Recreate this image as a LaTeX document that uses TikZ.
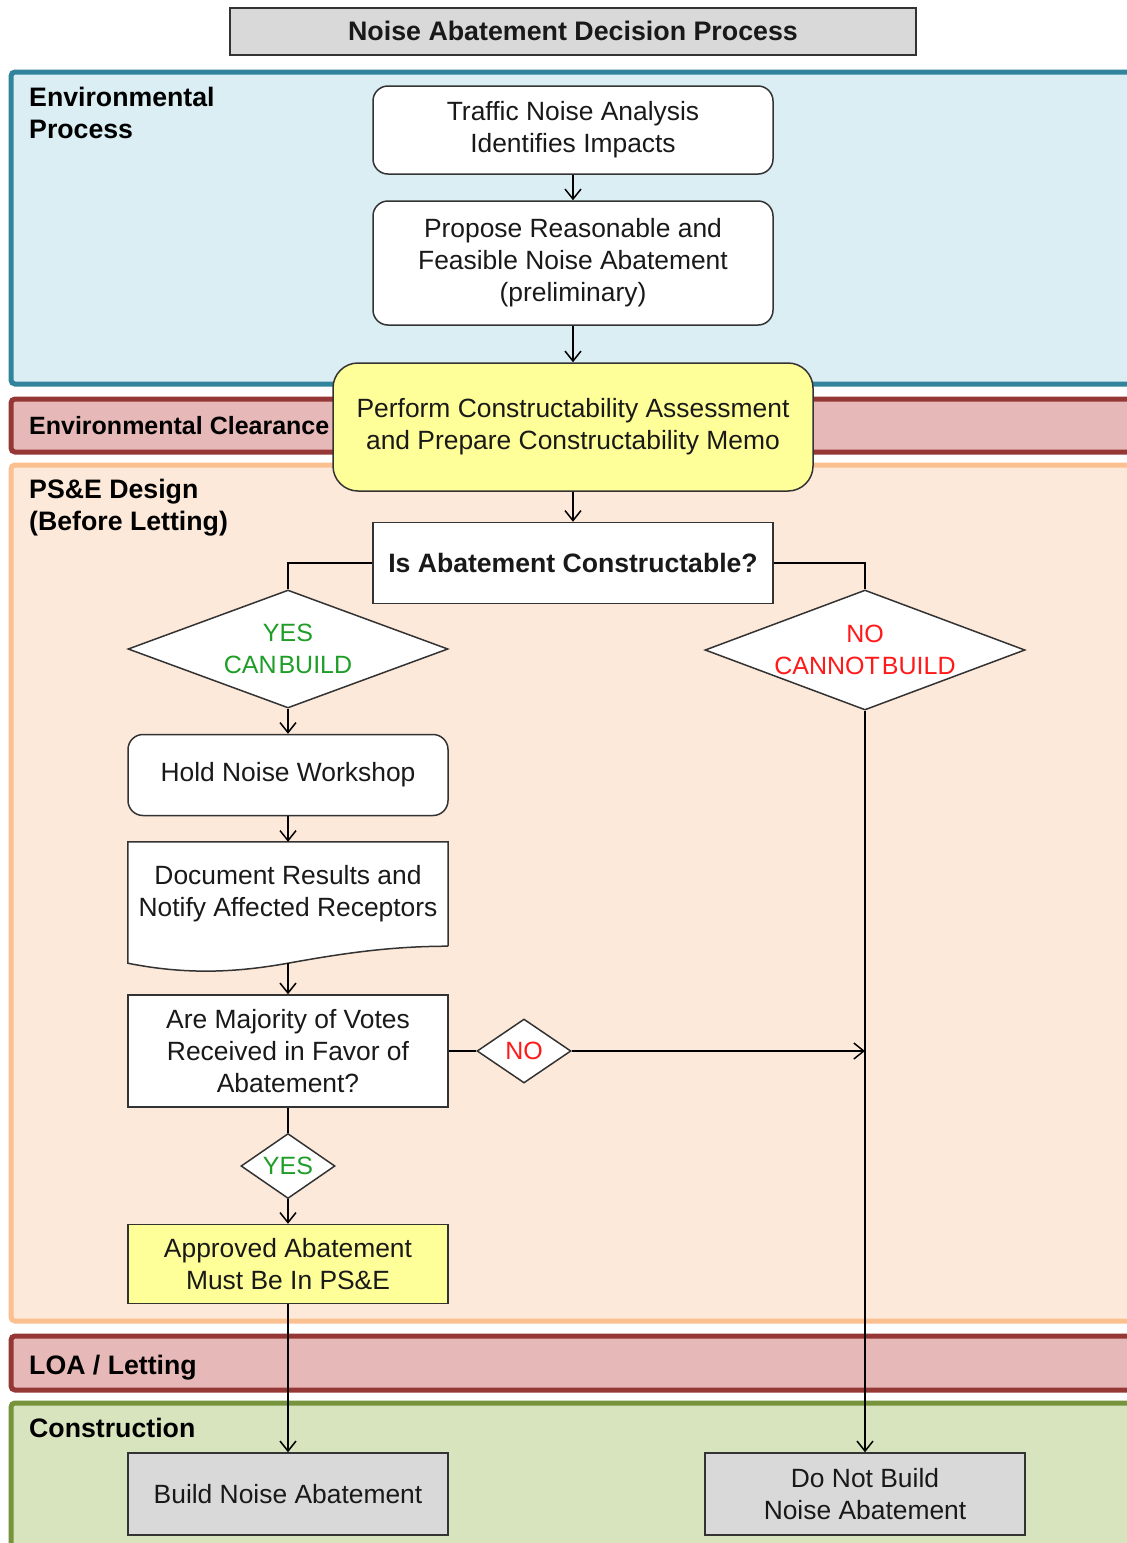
\documentclass[tikz,border=0pt]{standalone}
\usepackage{fontspec}
\setmainfont{Liberation Sans}
\usetikzlibrary{arrows.meta,positioning,calc,shapes.geometric}

\definecolor{envfill}{HTML}{DAEEF3}
\definecolor{envline}{HTML}{31849B}
\definecolor{clrfill}{HTML}{E6B8B7}
\definecolor{clrline}{HTML}{953735}
\definecolor{psefill}{HTML}{FDE9D9}
\definecolor{pseline}{HTML}{FAC090}
\definecolor{cnsfill}{HTML}{D7E4BD}
\definecolor{cnsline}{HTML}{77933C}
\definecolor{memo}{HTML}{FFFF99}
\definecolor{greybox}{HTML}{D9D9D9}
\definecolor{yesgreen}{HTML}{1E9E28}
\definecolor{nored}{HTML}{FF1A1A}

\newcommand{\choicefont}{\fontsize{25}{32}\selectfont\spaceskip 2pt\relax}

\tikzset{
  band/.style={line width=5pt, rounded corners=4pt},
  bandlabel/.style={font=\fontsize{26.7}{32}\selectfont\bfseries, align=left, inner sep=0pt},
  boxed/.style={draw=black!80, line width=1.5pt, fill=white, align=center, inner sep=0pt,
    text=black!90, minimum width=320pt},
  roundbox/.style={boxed, rounded corners=15pt},
  choice/.style={diamond, draw=black!80, line width=1.5pt, fill=white, inner sep=0pt},
  choicetext/.style={font=\choicefont, align=center},
  flow/.style={line width=1.5pt, -{Straight Barb[length=10pt,width=16pt]}},
  link/.style={line width=1.5pt},
}

\begin{document}
\begin{tikzpicture}[x=1pt,y=-1pt, every node/.style={font=\fontsize{26.4}{32}\selectfont}]
\clip (0,0) rectangle (1127,1543);
\fill[white] (0,0) rectangle (1127,1543);

% swim lanes
\draw[band, draw=envline, fill=envfill] (11,72) rectangle (1140,384);
\draw[band, draw=clrline, fill=clrfill] (11,399) rectangle (1140,452);
\draw[band, draw=pseline, fill=psefill] (11,465) rectangle (1140,1321);
\draw[band, draw=clrline, fill=clrfill] (11,1336) rectangle (1140,1390);
\draw[band, draw=cnsline, fill=cnsfill] (11,1403) rectangle (1140,1600);

\node[bandlabel, anchor=north west] (lenv) at (29,87) {Environmental\\Process};
\node[bandlabel, anchor=base west, font=\fontsize{25}{32}\selectfont\bfseries] (lclr) at (29,434) {Environmental Clearance};
\node[bandlabel, anchor=north west] (lpse) at (29,479) {PS\&E Design\\(Before Letting)};
\node[bandlabel, anchor=base west] (lloa) at (29,1374) {LOA / Letting};
\node[bandlabel, anchor=base west] (lcns) at (29,1437) {Construction};

% title
\node[boxed, fill=greybox, line width=2pt, minimum width=686pt, minimum height=47pt,
  font=\fontsize{26.8}{32}\selectfont\bfseries] (title) at (573,31) {Noise Abatement Decision Process};

% boxes
\node[roundbox, minimum width=400pt, minimum height=88pt] (traffic) at (573,130)
  {Traffic Noise Analysis\\Identifies Impacts};
\node[roundbox, minimum width=400pt, minimum height=124pt] (propose) at (573,263)
  {Propose Reasonable and\\Feasible Noise Abatement\\(preliminary)};
\node[roundbox, fill=memo, rounded corners=25pt, minimum width=480pt, minimum height=128pt] (perform) at (573,427)
  {Perform Constructability Assessment\\and Prepare Constructability Memo};
\node[boxed, minimum width=400pt, minimum height=81pt,
  font=\fontsize{26.6}{32}\selectfont\bfseries] (isabate) at (573,563) {Is Abatement Constructable?};

\node[choice, minimum width=320pt, minimum height=118pt,
  label={[choicetext, text=yesgreen]center:YES\\CAN BUILD}] (canbuild) at (288,649) {};
\node[choice, minimum width=320pt, minimum height=120pt,
  label={[choicetext, text=nored]center:NO\\CANNOT BUILD}] (cannotbuild) at (865,650) {};

\node[roundbox, minimum height=81pt] (workshop) at (288,775) {Hold Noise Workshop};

\node[align=center, inner sep=0pt, minimum width=320pt, minimum height=104pt, text=black!90] (docres) at (288,894)
  {Document Results and\\Notify Affected Receptors};
\draw[draw=black!80, fill=white, line width=1.5pt] (docres.south east) -- (docres.north east)
  -- (docres.north west) -- ($(docres.south west)+(0,17)$)
  .. controls ($(docres.south west)+(60,29)$) and ($(docres.south west)+(110,26)$) .. ($(docres.south)+(0,17)$)
  .. controls ($(docres.south)+(50,8)$) and ($(docres.south east)+(-60,0)$) .. (docres.south east);
\node[align=center, inner sep=0pt, text=black!90] at (docres) {Document Results and\\Notify Affected Receptors};
\coordinate (docbot) at ($(docres.south)+(0,17)$);

\node[boxed, minimum height=112pt] (votes) at (288,1051) {Are Majority of Votes\\Received in Favor of\\Abatement?};
\node[choice, minimum width=94pt, minimum height=64pt,
  label={[choicetext, text=nored]center:NO}] (novote) at (524,1051) {};
\node[choice, minimum width=94pt, minimum height=65pt,
  label={[choicetext, text=yesgreen]center:YES}] (yesvote) at (288,1166) {};

\node[boxed, fill=memo, minimum height=79pt] (approved) at (288,1264) {Approved Abatement\\Must Be In PS\&E};
\node[boxed, fill=greybox, minimum height=82pt] (build) at (288,1494) {Build Noise Abatement};
\node[boxed, fill=greybox, minimum height=82pt] (nobuild) at (865,1494) {Do Not Build\\Noise Abatement};

\coordinate (merge) at (cannotbuild |- novote);

% connectors
\draw[flow] (traffic) -- (propose);
\draw[flow] (propose) -- (perform);
\draw[flow] (perform) -- (isabate);
\draw[link] (isabate.west) -| (canbuild.north);
\draw[link] (isabate.east) -| (cannotbuild.north);
\draw[flow] (canbuild.south) -- (workshop.north);
\draw[flow] (workshop.south) -- (docres.north);
\draw[flow] (docbot) -- (votes.north);
\draw[link] (votes.east) -- (novote.west);
\draw[flow] (novote.east) -- (merge);
\draw[link] (votes.south) -- (yesvote.north);
\draw[flow] (yesvote.south) -- (approved.north);
\draw[flow] (approved.south) -- (build.north);
\draw[flow] (cannotbuild.south) -- (nobuild.north);
\end{tikzpicture}
\end{document}
